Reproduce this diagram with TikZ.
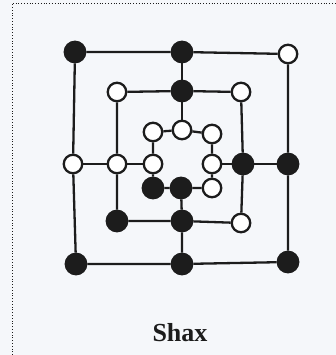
\documentclass[tikz,border=0pt]{standalone}
\usepackage{fontspec}
\setmainfont{Liberation Serif}
\definecolor{paper}{RGB}{245,247,250}
\definecolor{ink}{RGB}{28,28,28}
\begin{document}
\begin{tikzpicture}[
        x=1pt, y=-1pt,
        stone/.style={circle, draw=ink, line width=2.3pt, inner sep=0pt},
        bstone/.style={stone, fill=ink, minimum size=20.5pt},
        wstone/.style={stone, fill=white, minimum size=18.5pt},
        board/.style={draw=ink, line width=2.3pt},
        title/.style={draw=none, text=ink, font=\bfseries\fontsize{26}{31}\selectfont}
    ]
    \fill[paper] (0,0) rectangle (336,355);
    \useasboundingbox (0,0) rectangle (336,355);
    \draw[ink, line width=0.8pt, dotted] (12,355) -- (12,3) -- (336,3);

    % outer square
    \node[bstone] (o1) at (75,52) {};
    \node[bstone] (o2) at (182,52) {};
    \node[wstone] (o3) at (288,54) {};
    \node[bstone] (o4) at (288,164) {};
    \node[bstone] (o5) at (288,262) {};
    \node[bstone] (o6) at (182,264) {};
    \node[bstone] (o7) at (76,264) {};
    \node[wstone] (o8) at (73,164) {};

    % middle square
    \node[wstone] (m1) at (117,92) {};
    \node[bstone] (m2) at (182,91) {};
    \node[wstone] (m3) at (241,92) {};
    \node[bstone] (m4) at (243,164) {};
    \node[wstone] (m5) at (241,223) {};
    \node[bstone] (m6) at (182,221) {};
    \node[bstone] (m7) at (117,221) {};
    \node[wstone] (m8) at (117,164) {};

    % inner square
    \node[wstone] (i1) at (153,132) {};
    \node[wstone] (i2) at (182,130) {};
    \node[wstone] (i3) at (212,134) {};
    \node[wstone] (i4) at (212,164) {};
    \node[wstone] (i5) at (212,188) {};
    \node[bstone] (i6) at (181,188) {};
    \node[bstone] (i7) at (153,188) {};
    \node[wstone] (i8) at (153,164) {};

    \draw[board] (o1) -- (o2) -- (o3) -- (o4) -- (o5) -- (o6) -- (o7) -- (o8) -- (o1);
    \draw[board] (m1) -- (m2) -- (m3) -- (m4) -- (m5) -- (m6) -- (m7) -- (m8) -- (m1);
    \draw[board] (i1) -- (i2) -- (i3) -- (i4) -- (i5) -- (i6) -- (i7) -- (i8) -- (i1);

    % cross lines
    \draw[board] (o2) -- (m2) -- (i2);
    \draw[board] (o4) -- (m4) -- (i4);
    \draw[board] (o6) -- (m6) -- (i6);
    \draw[board] (o8) -- (m8) -- (i8);

    \node[title] (name) at (180,333) {Shax};
\end{tikzpicture}
\end{document}
